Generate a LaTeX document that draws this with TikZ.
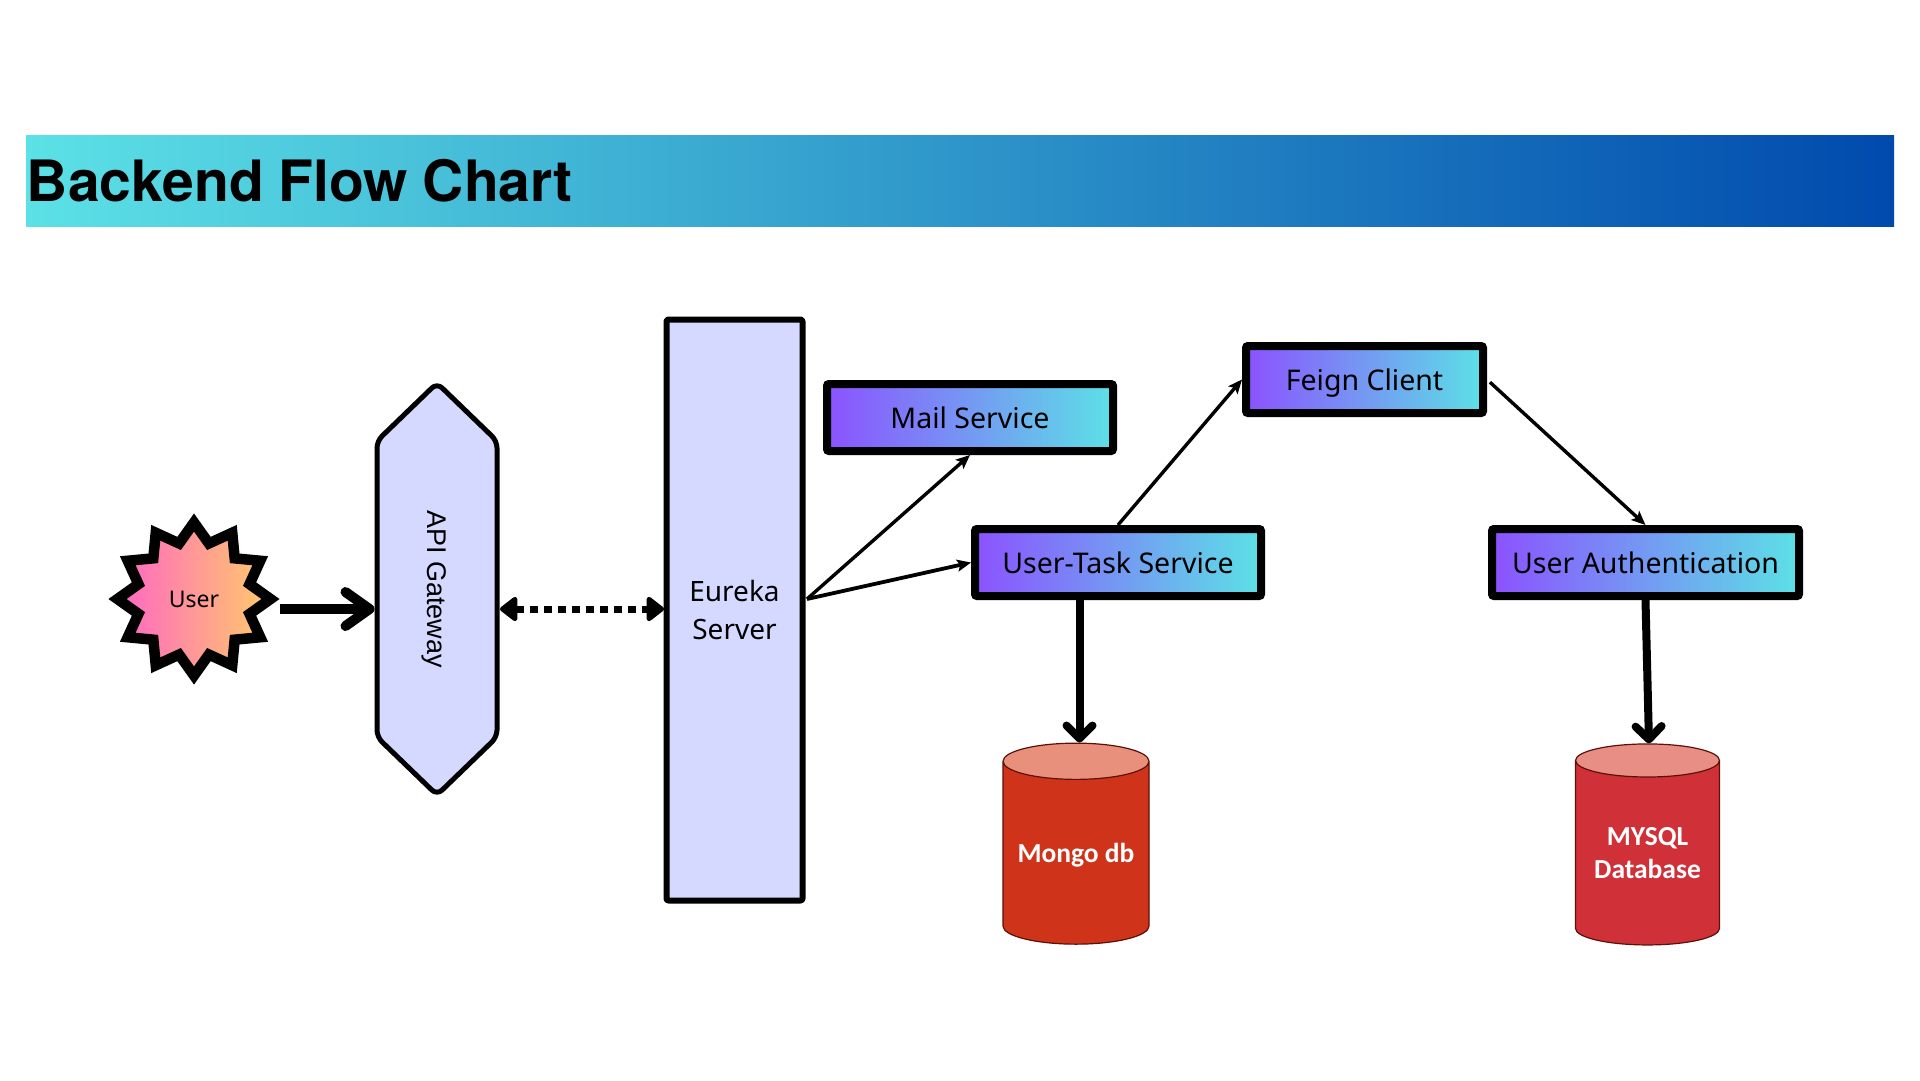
\documentclass[tikz,border=0pt]{standalone}
\usepackage{fontspec}
\setmainfont{Noto Sans}
\newfontfamily\titlefont{TeX Gyre Heros}
\newfontfamily\dbfont{Carlito}
\newfontfamily\apifont{Liberation Sans}
\usepackage{tikz}
\usetikzlibrary{arrows.meta,shapes.geometric,shapes.symbols}
\definecolor{sky}{HTML}{5CE1E6}
\definecolor{navy}{HTML}{004AAD}
\definecolor{violet}{HTML}{8C52FF}
\definecolor{pinky}{HTML}{FF66C4}
\definecolor{amber}{HTML}{FFCB69}
\definecolor{lilac}{HTML}{D6D9FF}
\definecolor{rimdark}{HTML}{5A1208}
\definecolor{mongobody}{HTML}{CF3319}
\definecolor{mongotop}{HTML}{E8907C}
\definecolor{mysqlbody}{HTML}{D03038}
\definecolor{mysqltop}{HTML}{E88E85}
\tikzstyle{svc} = [draw,line width=8pt,rounded corners=2pt,left color=violet,right color=sky,minimum height=67pt,text height=21pt,text depth=0pt,font=\fontsize{28.5}{34}\selectfont]
\tikzstyle{tall} = [draw,fill=lilac,line join=round]
\tikzstyle{db} = [cylinder,shape border rotate=90,aspect=0.31,cylinder uses custom fill,minimum width=146pt,minimum height=201pt,inner sep=0pt,text=white,align=center,draw=rimdark,line width=1.2pt,font=\dbfont\bfseries\fontsize{27.5}{33}\selectfont]
\tikzstyle{heavy} = [->,line width=10pt,>={Straight Barb[length=24pt,width=34pt,line cap=round,round]}]
\tikzstyle{down} = [->,line width=8pt,>={Straight Barb[length=13pt,width=26pt,line cap=round,round]}]
\tikzstyle{thin} = [->,line width=3.4pt,>={Stealth[length=14pt,width=12pt,inset=3pt]}]

\begin{document}
\begin{tikzpicture}[x=1pt,y=-1pt]
    \path[use as bounding box,fill=white] (0,0) rectangle (1920,1080);

    \node[left color=sky,right color=navy,minimum width=1868pt,minimum height=91pt,inner xsep=1pt,text width=1866pt,align=left,font=\titlefont\bfseries\fontsize{57}{70}\selectfont] (banner) at (960,181) {\spaceskip=0.26em Backend Flow Chart};

    \node[star,star points=12,star point ratio=1.33,minimum size=153pt,inner sep=0pt,draw,line width=10.5pt,left color=pinky,right color=amber,font=\fontsize{23}{28}\selectfont] (user) at (194,599) {User};
    \node[tall,line width=5pt,rotate=-90,signal,signal to=east and west,signal pointer angle=92,rounded corners=7pt,minimum height=120pt,minimum width=412pt,inner sep=0pt,text height=25pt,text depth=5.7pt,font=\apifont\fontsize{27}{32}\selectfont] (api) at (437,589) {API Gateway};
    \node[tall,line width=6pt,rounded corners=2pt,minimum width=136pt,minimum height=581pt,align=center,font=\fontsize{28}{38}\selectfont] (eureka) at (734.5,610) {Eureka\\Server};

    \node[svc,minimum width=286pt] (mail) at (970,417.5) {Mail Service};
    \node[svc,minimum width=237pt] (feign) at (1364.5,379.5) {Feign Client};
    \node[svc,minimum width=286pt] (task) at (1118,562.5) {User-Task Service};
    \node[svc,minimum width=307pt] (auth) at (1645.5,562.5) {User Authentication};

    \node[db,cylinder body fill=mongobody,cylinder end fill=mongotop] (mongo) at (1076,853) {\raisebox{-2.5pt}[\height][\depth]{Mongo db}};
    \node[db,minimum width=144pt,cylinder body fill=mysqlbody,cylinder end fill=mysqltop] (mysql) at (1647.5,853) {MYSQL\\Database};

    \coordinate (userout) at (280,609);
    \coordinate (eurekaout) at (807,599);
    \coordinate (apiright) at (500,609);
    \coordinate (eurekaleft) at (664,609);

    \draw[heavy] (userout) -- (userout -| api.south);
    \draw[<->,line width=7pt,dash pattern=on 8pt off 6pt,>={Triangle[length=19pt,width=28pt,round]}] (apiright) -- (eurekaleft);
    \draw[thin] (eurekaout) -- (mail.south);
    \draw[thin,line width=3.8pt] (eurekaout) -- (task.west);
    \draw[thin] (task.north) -- (feign.west);
    \draw[thin,shorten <=4pt] (feign.east) -- (auth.north);
    \draw[down] ([xshift=3.5pt]task.south -| mongo.north) -- ([xshift=3.5pt]mongo.north);
    \draw[down] (auth.south) -- ([xshift=1.5pt]mysql.north);
\end{tikzpicture}
\end{document}
